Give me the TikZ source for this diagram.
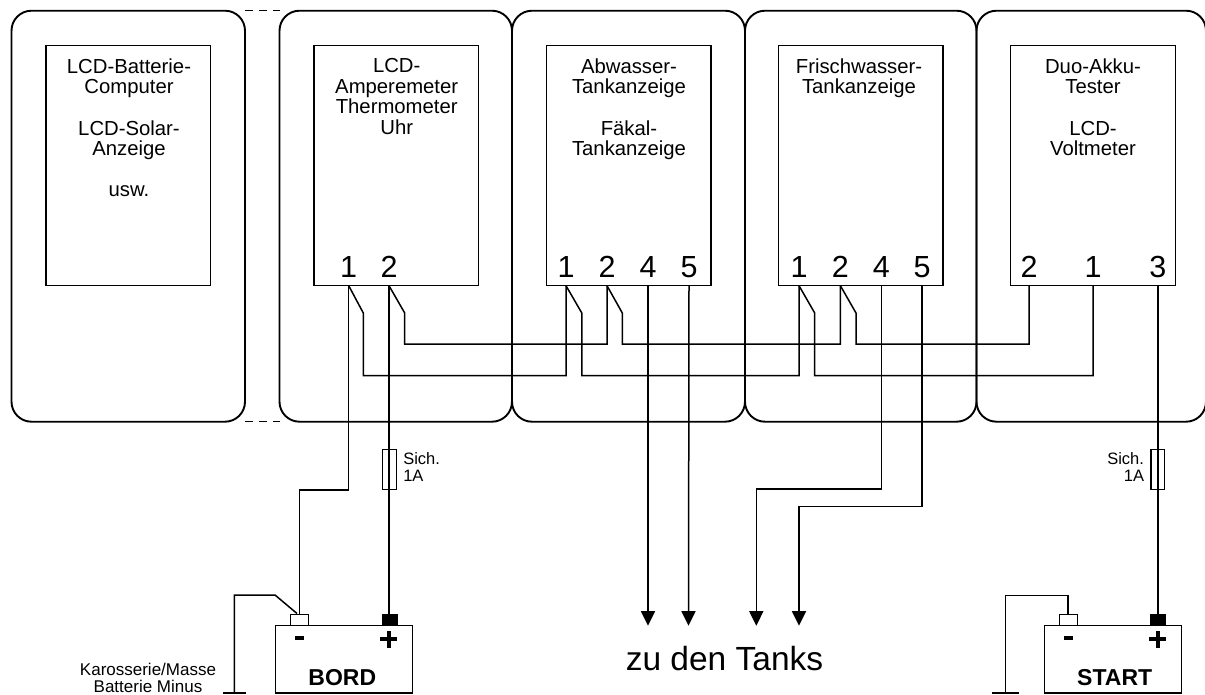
\documentclass[tikz,border=0pt]{standalone}
\usepackage{fontspec}
\setmainfont{Liberation Sans}
\usetikzlibrary{arrows.meta}
\tikzset{
  x=1pt,y=-1pt,
  panel/.style={draw,line width=1.9pt,rounded corners=20pt,inner sep=0pt,outer sep=0pt,minimum height=411pt,anchor=north west},
  lcd/.style={draw,line width=1.4pt,inner sep=0pt,outer sep=0pt,minimum width=164.5pt,minimum height=240pt,anchor=north west},
  caption/.style={inner sep=0pt,outer sep=0pt,anchor=north,align=center,font=\fontsize{20.3}{20.6}\selectfont},
  pinno/.style={inner sep=0pt,outer sep=0pt,anchor=base,font=\fontsize{30.5}{30.5}\selectfont},
  wire/.style={line width=1.5pt,line join=miter},
  tankwire/.style={wire,-{Triangle[length=14.5pt,width=14pt]}},
  fuse/.style={draw,line width=1.3pt,inner sep=0pt,outer sep=0pt,minimum width=13.5pt,minimum height=40.5pt,anchor=north west},
  small/.style={inner sep=0pt,outer sep=0pt,font=\fontsize{16.5}{17}\selectfont},
  mass/.style={inner sep=0pt,outer sep=0pt,font=\fontsize{17}{17.3}\selectfont},
  battery/.style={draw,line width=1.6pt,inner sep=0pt,outer sep=0pt,minimum width=137pt,minimum height=67.5pt,anchor=north west},
  batname/.style={inner sep=0pt,outer sep=0pt,anchor=base,font=\bfseries\fontsize{23}{23}\selectfont},
  negterm/.style={draw,line width=1.4pt,fill=white,inner sep=0pt,outer sep=0pt,minimum width=18pt,minimum height=11pt,anchor=north west},
  posterm/.style={draw,fill=black,line width=0.6pt,inner sep=0pt,outer sep=0pt,minimum width=15pt,minimum height=11pt,anchor=north west},
  pole/.style={line width=3.6pt},
  earth/.style={line width=2.6pt},
  gap/.style={line width=1.5pt,dash pattern=on 7.5pt off 6.5pt}
}
\begin{document}
\begin{tikzpicture}
\useasboundingbox (0,0) rectangle (1205,694);
% panels
\node[panel,minimum width=233.5pt] (p0) at (11.5,10.7) {};
\node[panel,minimum width=232.5pt] (p1) at (279.5,10.7) {};
\node[panel,minimum width=233pt] (p2) at (512,10.7) {};
\node[panel,minimum width=231.5pt] (p3) at (745,10.7) {};
\node[panel,minimum width=229.5pt] (p4) at (976.5,10.7) {};
\draw[gap] (p0.north east) -- (p1.north west);
\draw[gap] (p0.south east) -- (p1.south west);
% instruments
\node[lcd] (i0) at (46,45.7) {};
\node[lcd] (i1) at (314,45.7) {};
\node[lcd] (i2) at (546.5,45.7) {};
\node[lcd] (i3) at (778.5,45.7) {};
\node[lcd] (i4) at (1010.7,45.7) {};
% captions
\node[caption] (c0) at (129,58.5) {LCD-Batterie-\\Computer\\[20.6pt]LCD-Solar-\\Anzeige\\[20.6pt]usw.};
\node[caption] (c1) at (396.7,58.5) {LCD-\\Amperemeter\\Thermometer\\Uhr};
\node[caption] (c2) at (629,58.5) {Abwasser-\\Tankanzeige\\[20.6pt]Fäkal-\\Tankanzeige};
\node[caption] (c3) at (859,58.5) {Frischwasser-\\Tankanzeige};
\node[caption] (c4) at (1093,58.5) {Duo-Akku-\\Tester\\[20.6pt]LCD-\\Voltmeter};
% pin numbers
\node[pinno] (n11) at (348.7,277) {1};
\node[pinno] (n12) at (389,277) {2};
\node[pinno] (n21) at (566,277) {1};
\node[pinno] (n22) at (607,277) {2};
\node[pinno] (n24) at (648,277) {4};
\node[pinno] (n25) at (689,277) {5};
\node[pinno] (n31) at (799,277) {1};
\node[pinno] (n32) at (840.4,277) {2};
\node[pinno] (n34) at (881.3,277) {4};
\node[pinno] (n35) at (922.2,277) {5};
\node[pinno] (n42) at (1029,277) {2};
\node[pinno] (n41) at (1093,277) {1};
\node[pinno] (n43) at (1157.8,277) {3};
% pin points
\coordinate (a1) at (348.7,285.7);
\coordinate (a2) at (389,285.7);
\coordinate (b1) at (566,285.7);
\coordinate (b2) at (607,285.7);
\coordinate (b4) at (648,285.7);
\coordinate (b5) at (689,285.7);
\coordinate (e1) at (799,285.7);
\coordinate (e2) at (840.4,285.7);
\coordinate (e4) at (881.3,285.7);
\coordinate (e5) at (922.2,285.7);
\coordinate (d2) at (1029,285.7);
\coordinate (d1) at (1093,285.7);
\coordinate (d3) at (1157.8,285.7);
% bus wires
\draw[wire] (a1) -- (363.3,313) -- (363.3,375.7) -- (566,375.7) -- (b1);
\draw[wire] (a2) -- (404.7,313) -- (404.7,344) -- (607,344) -- (b2);
\draw[wire] (b1) -- (581.8,313) -- (581.8,375.7) -- (799,375.7) -- (e1);
\draw[wire] (b2) -- (622.3,313) -- (622.3,344) -- (840.4,344) -- (e2);
\draw[wire] (e1) -- (814.7,313) -- (814.7,375.7) -- (1093,375.7) -- (d1);
\draw[wire] (e2) -- (856,313) -- (856,344) -- (1029,344) -- (d2);
% batteries
\node[battery] (bord) at (275.5,625.5) {};
\node[battery] (start) at (1044.3,625.5) {};
\node[batname] (bordname) at (342.3,685.7) {BORD};
\node[batname] (startname) at (1114.7,685.7) {START};
\node[negterm] (bm) at (290.3,614.3) {};
\node[posterm] (bp) at (382,614.3) {};
\node[negterm] (sm) at (1059.3,614.3) {};
\node[posterm] (sp) at (1150.6,614.3) {};
% battery signs
\draw[pole] (295,638) -- (304,638);
\draw[pole] (380,639) -- (397,639);
\draw[pole] (388.7,631) -- (388.7,647.5);
\draw[pole] (1064,638) -- (1073.3,638);
\draw[pole] (1149,639) -- (1166,639);
\draw[pole] (1157.8,631) -- (1157.8,647.5);
% supply wires
\draw[wire] (a1) -- (348.7,490) -- (299.3,490) -- (299.3,614);
\draw[wire] (a2) -- (bp.north -| a2);
\draw[wire] (d3) -- (sp.north -| d3);
% fuses
\node[fuse] (f1) at (382.7,449.3) {};
\node[fuse] (f2) at (1151,449.3) {};
\node[small,anchor=north west,align=left] (l1) at (403.3,453) {Sich.\\1A};
\node[small,anchor=north east,align=right] (l2) at (1144,453) {Sich.\\1A};
% earth
\coordinate (g1) at (234.3,693);
\coordinate (g2) at (1005.3,693);
\draw[wire] (297,613.5) -- (275,595) -- (234.3,595) -- (g1);
\draw[wire] (1068,614) -- (1068,595.7) -- (1005.3,595.7) -- (g2);
\draw[earth] (223,693) -- (245.7,693);
\draw[earth] (992,693) -- (1019,693);
\node[mass,anchor=north,align=center] (l3) at (148,663) {Karosserie/Masse\\Batterie Minus};
% tank wires
\coordinate (t1) at (648,625.7);
\coordinate (t2) at (688.5,625.7);
\coordinate (t3) at (756.3,625.7);
\coordinate (t4) at (799,625.7);
\draw[tankwire] (b4) -- (t1);
\draw[tankwire] (b5) -- (t2);
\draw[tankwire] (e4) -- (881.3,489) -- (756.3,489) -- (t3);
\draw[tankwire] (e5) -- (922.2,506.3) -- (799,506.3) -- (t4);
\node[inner sep=0pt,outer sep=0pt,anchor=base,font=\fontsize{33.5}{33.5}\selectfont] (tanks) at (724.5,670) {zu den Tanks};
\end{tikzpicture}
\end{document}
